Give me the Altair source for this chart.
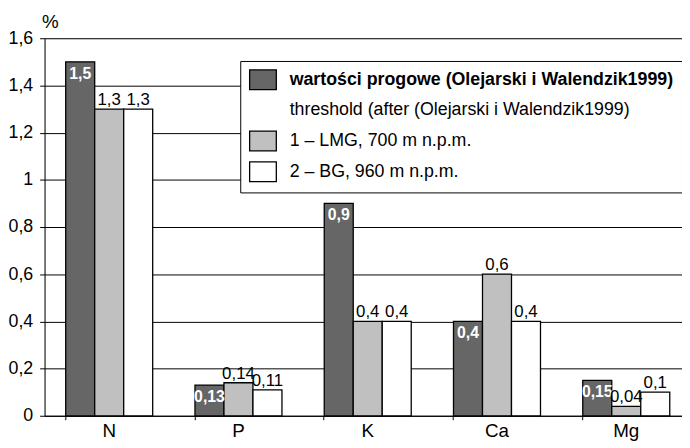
import altair as alt
import pandas as pd

FONT = "Liberation Sans, Arial, sans-serif"

elements = ["N", "P", "K", "Ca", "Mg"]
threshold = [1.5, 0.13, 0.9, 0.4, 0.15]
lmg = [1.3, 0.14, 0.4, 0.6, 0.04]
bg = [1.3, 0.11, 0.4, 0.4, 0.1]

S_THR = "wartości progowe (Olejarski i Walendzik1999)"
S_THR2 = "threshold (after (Olejarski i Walendzik1999)"
S_LMG = " 1 – LMG, 700 m n.p.m."
S_BG = " 2 – BG, 960 m n.p.m."
legend_order = [S_THR, S_THR2, S_LMG, S_BG]
series_order = [S_THR, S_LMG, S_BG]
fills = ["#666666", "rgba(0,0,0,0)", "#c0c0c0", "#ffffff"]
strokes = ["#000000", "rgba(0,0,0,0)", "#000000", "#000000"]
y_ticks = [0, 0.2, 0.4, 0.6, 0.8, 1.0, 1.2, 1.4, 1.6]

rows = []
for s, kind, vals in zip(series_order, ["thr", "site", "site"], [threshold, lmg, bg]):
    for e, v in zip(elements, vals):
        rows.append({"element": e, "series": s, "kind": kind, "value": v,
                     "label": str(v).replace(".", ",")})
df = pd.DataFrame(rows)

x_enc = alt.X(
    "element:N", sort=elements,
    scale=alt.Scale(domain=elements, range=[0, 654], paddingInner=0.327, paddingOuter=0.1635),
    axis=alt.Axis(title=None, labelAngle=0, labelFontSize=19, labelFont=FONT, labelColor="black",
                  domainColor="black", domainWidth=1, tickColor="black", tickSize=4, bandPosition=0,
                  labelPadding=2, grid=False),
)
xo_enc = alt.XOffset("series:N", sort=series_order,
                     scale=alt.Scale(domain=series_order, paddingInner=0, paddingOuter=0))
y_enc = alt.Y(
    "value:Q",
    scale=alt.Scale(domain=[0, 1.6], nice=False),
    axis=alt.Axis(values=y_ticks, format=".1~f", labelExpr="replace(datum.label, '.', ',')",
                  grid=True, gridColor="black", gridWidth=1, tickSize=5, tickColor="black",
                  domainColor="black", labelFontSize=18, labelFont=FONT, labelColor="black",
                  labelPadding=7, title="%", titleAngle=0, titleX=-3, titleY=-17,
                  titleAlign="left", titleBaseline="middle", titleFontSize=19,
                  titleFontWeight="normal", titleFont=FONT, titleColor="black"),
)

base = alt.Chart(df).encode(x=x_enc, xOffset=xo_enc)

bars = base.mark_bar(strokeWidth=1.3).encode(
    y=y_enc,
    fill=alt.Fill("series:N", scale=alt.Scale(domain=legend_order, range=fills),
                  legend=alt.Legend(
                      title=None, orient="none", legendX=198, legendY=23,
                      fillColor="white", strokeColor="black", padding=8,
                      symbolType="M-1.35,-1H1.35V1H-1.35Z", symbolSize=400,
                      symbolStrokeWidth=1.3, symbolOffset=4,
                      labelFontSize=18, labelFont=FONT, labelColor="black", labelLimit=0,
                      labelOffset=16,
                      labelFontWeight=alt.ExprRef("datum.index === 0 ? 'bold' : 'normal'"),
                      rowPadding=5)),
    stroke=alt.Stroke("series:N", scale=alt.Scale(domain=legend_order, range=strokes)),
)

dark_labels = base.transform_filter("datum.kind == 'thr'").mark_text(
    baseline="top", dy=4, color="white", fontWeight="bold", fontSize=16, font=FONT
).encode(y=alt.Y("value:Q"), text="label:N")

site_labels = base.transform_filter("datum.kind == 'site'").mark_text(
    baseline="alphabetic", dy=-4, color="black", fontSize=17, font=FONT
).encode(y=alt.Y("value:Q"), text="label:N")

chart = alt.layer(bars, dark_labels, site_labels).properties(
    width=645, height=382,
    autosize=alt.AutoSizeParams(type="none"),
    padding={"left": 37, "top": 28, "right": 0, "bottom": 30},
).configure_view(stroke=None).configure(background="white")

chart.save("out.html", embed_options={"renderer": "svg", "actions": False})
